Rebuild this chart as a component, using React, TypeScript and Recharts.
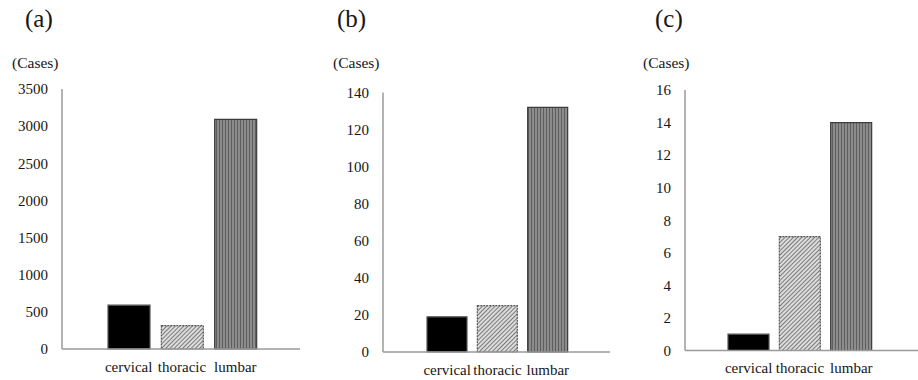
import React from 'react';
import { BarChart, Bar, XAxis, YAxis, Cell } from 'recharts';

const categories = ['cervical', 'thoracic', 'lumbar'];
const casesA = [590, 315, 3090];
const casesB = [19, 25, 132];
const casesC = [1, 7, 14];
const ticksA = [0, 500, 1000, 1500, 2000, 2500, 3000, 3500];
const ticksB = [0, 20, 40, 60, 80, 100, 120, 140];
const ticksC = [0, 2, 4, 6, 8, 10, 12, 14, 16];
const panelTitles = ['(a)', '(b)', '(c)'];
const unitLabel = '(Cases)';

const FONT = '"Liberation Serif", "Times New Roman", serif';
const TEXT = '#161616';
const AXIS = '#9a9a9a';

type PanelProps = {
  id: string;
  left: number;
  width: number;
  plotLeft: number;
  plotTop: number;
  plotBottom: number;
  padL: number;
  padR: number;
  barSize: number;
  values: number[];
  ticks: number[];
};

function Panel(p: PanelProps) {
  const data = categories.map((c, i) => ({ name: c, value: p.values[i] }));
  const max = p.ticks[p.ticks.length - 1];
  const fills = ['#000000', `url(#diag-${p.id})`, `url(#vert-${p.id})`];
  const strokes = ['#555555', '#555555', '#3c3c3c'];
  const dashes = [undefined, '2 1', undefined];
  const tickStyle = { fill: TEXT, fontSize: 15, fontFamily: FONT };
  return (
    <div style={{ position: 'absolute', left: p.left, top: 0 }}>
      <BarChart
        width={p.width}
        height={380}
        data={data}
        margin={{ top: p.plotTop, right: 0, bottom: 0, left: 0 }}
      >
        <defs>
          <pattern id={`diag-${p.id}`} patternUnits="userSpaceOnUse" width={3} height={3} patternTransform="rotate(45)">
            <rect x={0} y={0} width={3} height={3} fill="#dcdcdc" />
            <line x1={0.5} y1={0} x2={0.5} y2={3} stroke="#7a7a7a" strokeWidth={1} />
          </pattern>
          <pattern id={`vert-${p.id}`} patternUnits="userSpaceOnUse" width={3} height={3}>
            <rect x={0} y={0} width={3} height={3} fill="#8c8c8c" />
            <line x1={0.5} y1={0} x2={0.5} y2={3} stroke="#5e5e5e" strokeWidth={1} />
          </pattern>
        </defs>
        <XAxis
          dataKey="name"
          height={380 - p.plotBottom}
          padding={{ left: p.padL, right: p.padR }}
          tickLine={false}
          tickSize={0}
          tickMargin={12}
          axisLine={{ stroke: AXIS, strokeWidth: 1.5 }}
          tick={tickStyle}
          interval={0}
        />
        <YAxis
          width={p.plotLeft}
          domain={[0, max]}
          ticks={p.ticks}
          interval={0}
          tickLine={false}
          tickSize={0}
          tickMargin={14}
          axisLine={{ stroke: AXIS, strokeWidth: 1.5 }}
          tick={tickStyle}
        />
        <Bar dataKey="value" barSize={p.barSize} isAnimationActive={false}>
          {data.map((d, i) => (
            <Cell
              key={d.name}
              fill={fills[i]}
              stroke={strokes[i]}
              strokeWidth={1.2}
              strokeDasharray={dashes[i]}
            />
          ))}
        </Bar>
      </BarChart>
    </div>
  );
}

const textStyle: React.CSSProperties = {
  position: 'absolute',
  color: TEXT,
  fontFamily: FONT,
  whiteSpace: 'nowrap',
  lineHeight: 1,
};

export default function App() {
  return (
    <div style={{ position: 'absolute', left: 0, top: 0, width: 918, height: 380, background: '#fff', overflow: 'hidden' }}>
      <Panel id="a" left={0} width={300} plotLeft={62} plotTop={89} plotBottom={349} padL={40} padR={38} barSize={42} values={casesA} ticks={ticksA} />
      <Panel id="b" left={300} width={310} plotLeft={83} plotTop={92.5} plotBottom={352} padL={39} padR={37} barSize={40} values={casesB} ticks={ticksB} />
      <Panel id="c" left={610} width={308} plotLeft={75} plotTop={90} plotBottom={350.5} padL={38} padR={41} barSize={41} values={casesC} ticks={ticksC} />
      <div style={{ ...textStyle, left: 25, top: 6, fontSize: 25 }}>{panelTitles[0]}</div>
      <div style={{ ...textStyle, left: 337, top: 6, fontSize: 25 }}>{panelTitles[1]}</div>
      <div style={{ ...textStyle, left: 655, top: 6, fontSize: 25 }}>{panelTitles[2]}</div>
      <div style={{ ...textStyle, left: 12, top: 55, fontSize: 15.5 }}>{unitLabel}</div>
      <div style={{ ...textStyle, left: 333, top: 55, fontSize: 15.5 }}>{unitLabel}</div>
      <div style={{ ...textStyle, left: 643, top: 55, fontSize: 15.5 }}>{unitLabel}</div>
    </div>
  );
}
